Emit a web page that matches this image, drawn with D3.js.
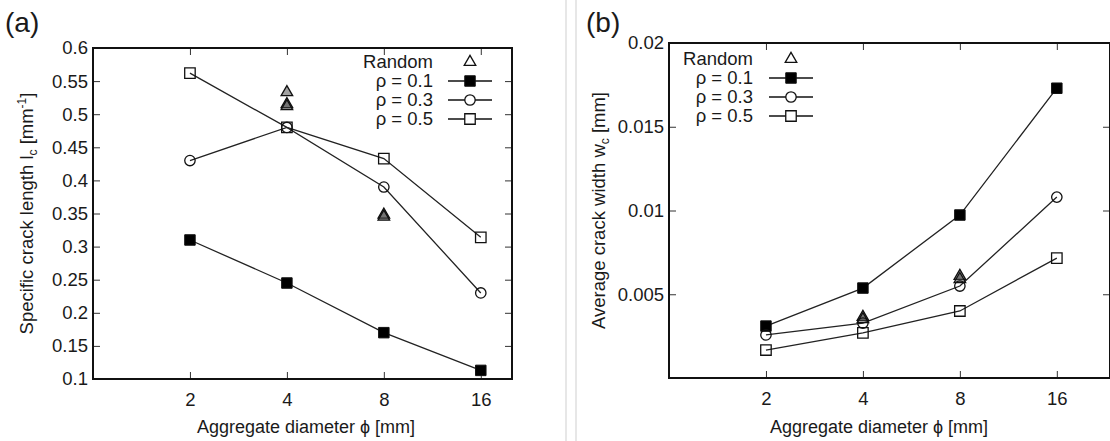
<!DOCTYPE html>
<html>
<head>
<meta charset="utf-8">
<script src="https://cdn.jsdelivr.net/npm/d3@7"></script>
<style>
  body { margin: 0; background: #fff; }
  svg { display: block; }
  text { font-family: "Liberation Sans", Arial, sans-serif; fill: #1a1a1a; }
</style>
</head>
<body>
<svg width="1110" height="441"></svg>
<script>
// aggregate diameters (x, log axis)
const diameters = [2, 4, 8, 16];

// (a) specific crack length
const lengthRho01 = [0.31, 0.245, 0.17, 0.113];
const lengthRho03 = [0.43, 0.48, 0.39, 0.23];
const lengthRho05 = [0.562, 0.48, 0.433, 0.314];
const lengthRandomX = [4, 4, 4, 8, 8];
const lengthRandomY = [0.533, 0.515, 0.512, 0.348, 0.345];
const lengthTicks = [0.1, 0.15, 0.2, 0.25, 0.3, 0.35, 0.4, 0.45, 0.5, 0.55, 0.6];

// (b) average crack width
const widthRho01 = [0.0031, 0.00537, 0.00973, 0.0173];
const widthRho03 = [0.00257, 0.00328, 0.00549, 0.0108];
const widthRho05 = [0.00167, 0.00269, 0.004, 0.00716];
const widthRandomX = [4, 4, 8, 8];
const widthRandomY = [0.00364, 0.0035, 0.00609, 0.0059];
const widthTicks = [0.005, 0.01, 0.015, 0.02];

const legendLabels = ["Random", "ρ = 0.1", "ρ = 0.3", "ρ = 0.5"];

var svg = d3.select("svg");

// light separator between the two panels
[566, 576].forEach(sx => {
    svg.append("line")
        .attr("x1", sx).attr("x2", sx)
        .attr("y1", 0).attr("y2", 441)
        .attr("stroke", "#cfcfcf").attr("stroke-width", 1);
});

const markerPath = {
    filled: d3.symbol().type(d3.symbolSquare).size(110)(),
    circle: d3.symbol().type(d3.symbolCircle).size(85)(),
    square: d3.symbol().type(d3.symbolSquare).size(110)(),
    triangle: d3.symbol().type(d3.symbolTriangle).size(58)()
};

function drawMarker(g, kind, px, py, fill) {
    g.append("path")
        .attr("d", markerPath[kind])
        .attr("transform", `translate(${px},${py})`)
        .attr("fill", kind === "filled" ? "#000" : (fill || "none"))
        .attr("stroke", "#111")
        .attr("stroke-width", kind === "filled" ? 1 : 1.3);
}

function drawPanel(cfg) {
    const g = svg.append("g");
    const x = d3.scaleLog().domain([1, cfg.xMax]).range([cfg.left, cfg.right]);
    const y = d3.scaleLinear().domain(cfg.yDomain).range([cfg.bottom, cfg.top]);

    // axes with inward ticks, mirrored on top/right
    const fmt = d => String(+d.toFixed(4));
    g.append("g").attr("transform", `translate(0,${cfg.bottom})`)
        .call(d3.axisBottom(x).tickValues(diameters).tickSize(-7).tickPadding(14).tickFormat(d => d));
    g.append("g").attr("transform", `translate(0,${cfg.top})`)
        .call(d3.axisTop(x).tickValues(diameters).tickSize(-7).tickFormat(""));
    g.append("g").attr("transform", `translate(${cfg.left},0)`)
        .call(d3.axisLeft(y).tickValues(cfg.ticks).tickSize(-7).tickPadding(5).tickFormat(fmt));
    g.append("g").attr("transform", `translate(${cfg.right},0)`)
        .call(d3.axisRight(y).tickValues(cfg.ticks).tickSize(-7).tickFormat(""));
    g.selectAll(".domain").remove();
    g.selectAll(".tick line").attr("stroke", "#333").attr("stroke-width", 1);
    g.selectAll(".tick text").attr("font-size", 18.5).attr("font-family", "Liberation Sans, Arial, sans-serif").attr("fill", "#1a1a1a");

    g.append("rect")
        .attr("x", cfg.left).attr("y", cfg.top)
        .attr("width", cfg.right - cfg.left).attr("height", cfg.bottom - cfg.top)
        .attr("fill", "none").attr("stroke", "#111").attr("stroke-width", 2);

    // series
    const line = d3.line().x(d => x(d[0])).y(d => y(d[1]));
    cfg.series.forEach(s => {
        const pts = diameters.map((d, i) => [d, s.values[i]]);
        g.append("path").attr("d", line(pts))
            .attr("fill", "none").attr("stroke", "#222").attr("stroke-width", 1.3);
    });
    cfg.randomX.forEach((rx, i) => {
        drawMarker(g, "triangle", x(rx), y(cfg.randomY[i]), "rgba(70,70,70,0.5)");
    });
    cfg.series.forEach(s => {
        s.values.forEach((v, i) => drawMarker(g, s.kind, x(diameters[i]), y(v)));
    });

    // legend
    const kinds = ["triangle", "filled", "circle", "square"];
    legendLabels.forEach((lab, i) => {
        const ly = cfg.legend.y + i * 19;
        g.append("text")
            .attr("x", cfg.legend.textX).attr("y", ly + 6)
            .attr("text-anchor", "end").attr("font-size", 18.5)
            .text(lab);
        if (i > 0) {
            g.append("line")
                .attr("x1", cfg.legend.markX - 22).attr("x2", cfg.legend.markX + 22)
                .attr("y1", ly).attr("y2", ly)
                .attr("stroke", "#111").attr("stroke-width", 1.5);
        }
        drawMarker(g, kinds[i], cfg.legend.markX, ly, "#fff");
    });

    // labels
    g.append("text").attr("x", cfg.panelX).attr("y", 32)
        .attr("font-size", 28).text(cfg.panel);

    g.append("text")
        .attr("x", (cfg.xLabelLeft + cfg.xLabelRight) / 2).attr("y", 433)
        .attr("text-anchor", "middle").attr("font-size", 18)
        .text("Aggregate diameter ϕ [mm]");

    const yl = g.append("text")
        .attr("transform", `translate(${cfg.yLabelX},${(cfg.top + cfg.bottom) / 2}) rotate(-90)`)
        .attr("text-anchor", "middle").attr("font-size", 18.5);
    cfg.yLabel(yl);
}

drawPanel({
    panel: "(a)", panelX: 5,
    left: 93, right: 512, top: 48, bottom: 379, xMax: 20,
    yDomain: [0.1, 0.6], ticks: lengthTicks,
    series: [
        { values: lengthRho01, kind: "filled" },
        { values: lengthRho03, kind: "circle" },
        { values: lengthRho05, kind: "square" }
    ],
    randomX: lengthRandomX, randomY: lengthRandomY,
    legend: { y: 62, textX: 433, markX: 470 },
    xLabelLeft: 197, xLabelRight: 415, yLabelX: 33,
    yLabel: t => {
        t.append("tspan").text("Specific crack length l");
        t.append("tspan").attr("dy", 4).attr("font-size", 12).text("c");
        t.append("tspan").attr("dy", -4).text(" [mm");
        t.append("tspan").attr("dy", -7).attr("font-size", 12).text("-1");
        t.append("tspan").attr("dy", 7).text("]");
    }
});

drawPanel({
    panel: "(b)", panelX: 586,
    left: 669, right: 1110, top: 43, bottom: 378, xMax: 23.4,
    yDomain: [0, 0.02], ticks: widthTicks,
    series: [
        { values: widthRho01, kind: "filled" },
        { values: widthRho03, kind: "circle" },
        { values: widthRho05, kind: "square" }
    ],
    randomX: widthRandomX, randomY: widthRandomY,
    legend: { y: 59, textX: 753, markX: 791 },
    xLabelLeft: 770, xLabelRight: 988, yLabelX: 605,
    yLabel: t => {
        t.append("tspan").text("Average crack width w");
        t.append("tspan").attr("dy", 4).attr("font-size", 12).text("c");
        t.append("tspan").attr("dy", -4).text(" [mm]");
    }
});
</script>
</body>
</html>
